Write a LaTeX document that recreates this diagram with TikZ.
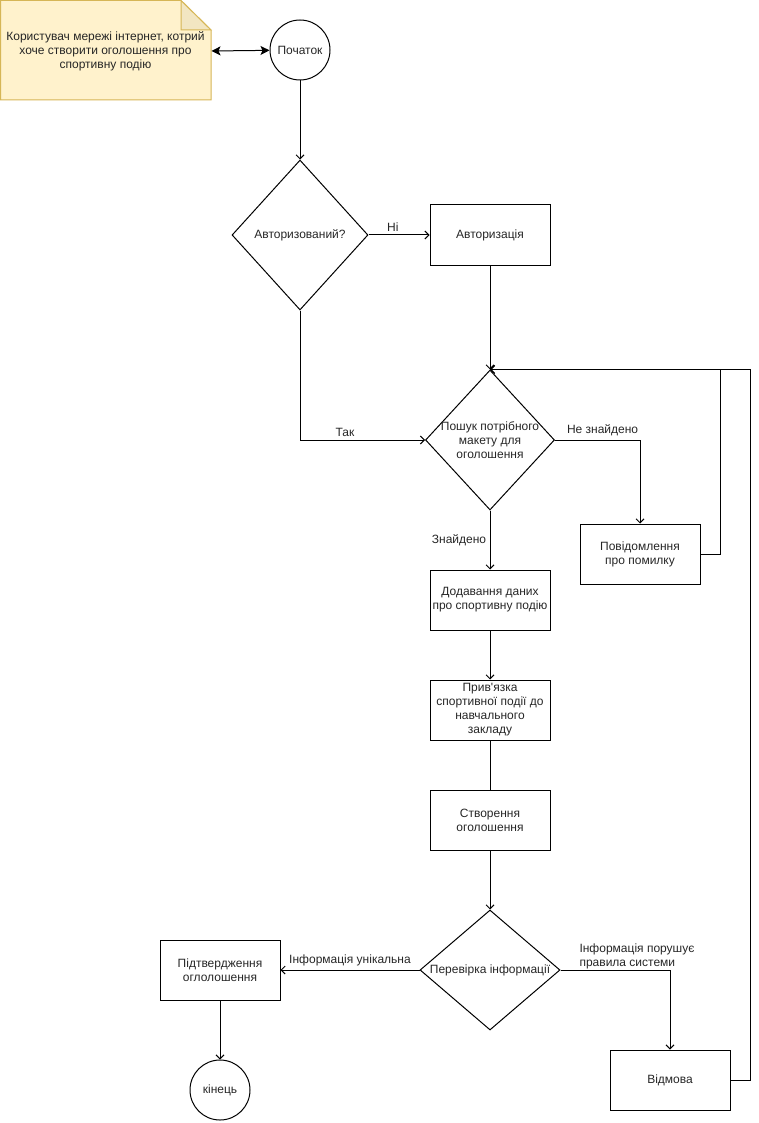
\documentclass[tikz,border=0pt]{standalone}
\usepackage{fontspec}
\setmainfont{Liberation Sans}
\usetikzlibrary{arrows.meta,shapes.geometric,positioning}
\definecolor{notefill}{HTML}{FFF2CC}
\definecolor{notefold}{HTML}{F2E6C2}
\definecolor{noteline}{HTML}{D6B656}

\begin{document}
\begin{tikzpicture}[x=1pt,y=-1pt,line width=1pt,
  font=\fontsize{12}{14}\selectfont,
  every node/.style={text=black!85},
  box/.style={draw,minimum width=120pt,minimum height=60pt,align=center,inner sep=2pt},
  term/.style={draw,circle,minimum size=60pt,inner sep=0pt},
  choice/.style={draw,diamond,inner sep=0pt},
  arr/.style={-{Straight Barb[length=4pt,width=8pt]}},
  both/.style={{Stealth[length=9pt,width=9pt,inset=2pt]}-{Stealth[length=9pt,width=9pt,inset=2pt]}}]

\useasboundingbox (0,0) rectangle (759,1123);

% note
\filldraw[fill=notefill,draw=noteline] (0.5,0.5) -- (181,0.5) -- (211,30) -- (211,100) -- (0.5,100) -- cycle;
\filldraw[fill=notefold,draw=noteline] (181,0.5) -- (181,30) -- (211,30) -- cycle;
\node[minimum width=211pt,minimum height=100pt,inner sep=0pt,align=center] (note) at (105.5,51)
  {Користувач мережі інтернет, котрий\\хоче створити оголошення про\\спортивну подію};

\node[term] (start) at (300,50) {Початок};
\node[choice,minimum width=136pt,minimum height=150pt,label={center:Авторизований?}] (isauth) at (300,235) {};
\node[box] (auth) at (490,235) {Авторизація};
\node[choice,minimum width=129pt,minimum height=140pt,
  label={[align=center]center:{Пошук потрібного\\макету для\\оголошення}}] (search) at (490,440) {};
\node[box] (err) at (640,554) {Повідомлення\\про помилку};

\foreach \i/\y/\element in {1/600/{Додавання даних\\про спортивну подію},
    2/710/{Прив\textquotesingle язка\\спортивної події до\\навчального\\закладу},
    3/820/{Створення\\оголошення}}
  \node[box] (step\i) at (490,\y) {\element};

\node[choice,minimum width=140pt,minimum height=120pt,label={center:Перевірка інформації}] (check) at (490,970) {};
\node[box] (confirm) at (220,970) {Підтвердження\\оглолошення};
\node[term] (finish) at (220,1090) {кінець};
\node[box] (reject) at (670,1080) {Відмова};

\draw[both] (note.east) -- (start);
\draw[arr] (start) -- (isauth);
\draw[arr] (isauth) -- node[pos=0.4,above]{Ні} (auth);
\draw[arr] (isauth.south) |- node[pos=0.68,above]{Так} (search.west);
\draw[arr] (auth) -- (search);
\draw[arr] (search.east) -| node[pos=0.28,above]{Не знайдено} (err.north);
\draw[arr] (err.east) -- ++(20,0) |- (search.north);
\draw[arr] (search) -- node[left]{Знайдено} (step1);
\draw[arr] (step1) -- (step2);
\draw (step2) -- (step3);
\draw[arr] (step3) -- (check);
\draw[arr] (check) -- node[above]{Інформація унікальна} (confirm);
\draw[arr] (check.east) -| node[pos=0.08,anchor=south west,align=left,inner sep=1pt]{Інформація порушує\\ правила системи} (reject.north);
\draw[arr] (confirm) -- (finish);
\draw[arr] (reject.east) -- ++(20,0) |- (search.north);

\end{tikzpicture}
\end{document}
